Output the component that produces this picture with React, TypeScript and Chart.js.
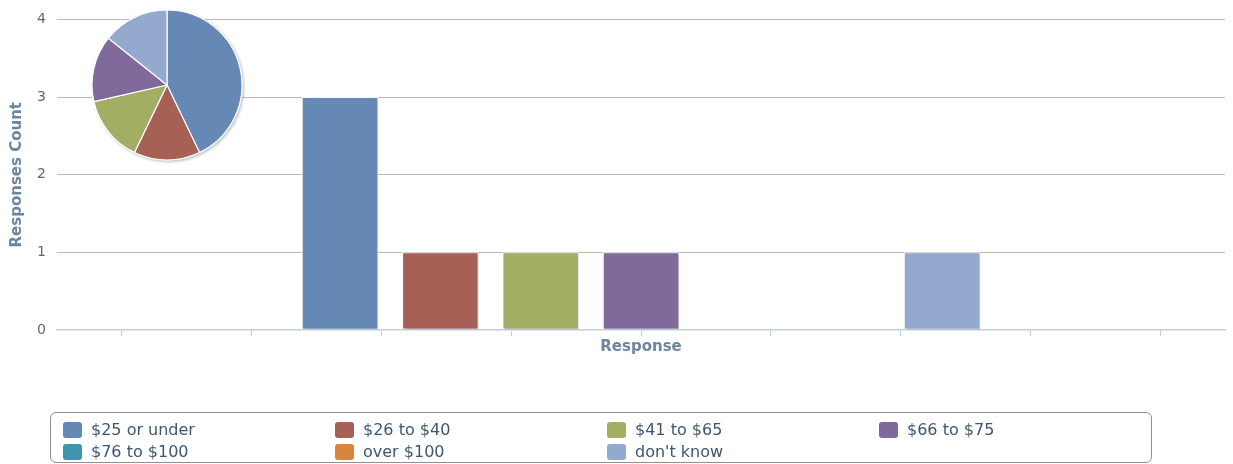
import React, { useEffect, useRef } from 'react';
import { Chart, registerables } from 'chart.js';

Chart.register(...registerables);

// ---- data ----
const categories = [''];
const seriesNames = ['$25 or under', '$26 to $40', '$41 to $65', '$66 to $75', '$76 to $100', 'over $100', "don't know"];
const seriesValues = [3, 1, 1, 1, 0, 0, 1];
const seriesColors = ['#6688B4', '#A66055', '#A3AE64', '#80699B', '#3D96AE', '#DB843D', '#93A9CE'];
const yTickValues = [0, 1, 2, 3, 4];
const xTickValues = [0, 1, 2, 3, 4, 5, 6, 7, 8];
const yTitle = 'Responses Count';
const xTitle = 'Response';

const FONT = 'DejaVu Sans';

const barShadow = {
  id: 'barShadow',
  beforeDatasetsDraw(chart: any) {
    const c = chart.ctx;
    c.save();
    c.shadowColor = 'rgba(0,0,0,0.25)';
    c.shadowBlur = 3;
    c.shadowOffsetX = 1.5;
    c.shadowOffsetY = 1;
  },
  afterDatasetsDraw(chart: any) {
    chart.ctx.restore();
  },
};

const pieShadow = {
  id: 'pieShadow',
  beforeDatasetsDraw(chart: any) {
    const meta = chart.getDatasetMeta(0);
    const arc = meta.data[0];
    if (!arc) return;
    const { x, y, outerRadius } = arc.getProps(['x', 'y', 'outerRadius'], true);
    const c = chart.ctx;
    c.save();
    c.shadowColor = 'rgba(0,0,0,0.25)';
    c.shadowBlur = 3;
    c.shadowOffsetX = 1.5;
    c.shadowOffsetY = 1.5;
    c.beginPath();
    c.arc(x, y, outerRadius + 0.5, 0, Math.PI * 2);
    c.fillStyle = '#ffffff';
    c.fill();
    c.restore();
  },
};

export default function App() {
  const mainRef = useRef<HTMLCanvasElement>(null);
  const pieRef = useRef<HTMLCanvasElement>(null);

  useEffect(() => {
    Chart.defaults.font.family = FONT;
    const main = new Chart(mainRef.current as HTMLCanvasElement, {
      type: 'bar',
      data: {
        labels: categories,
        datasets: seriesNames.map((name, i) => ({
          label: name,
          data: [seriesValues[i]],
          backgroundColor: seriesColors[i],
          borderColor: '#ffffff',
          borderWidth: 1,
          borderSkipped: false,
          categoryPercentage: 0.6014,
          barPercentage: 0.761,
          xAxisID: 'x',
          yAxisID: 'y',
        })),
      },
      options: {
        responsive: true,
        maintainAspectRatio: false,
        animation: false,
        layout: { padding: { top: 17, right: 8, bottom: 104, left: 0 } },
        plugins: { legend: { display: false }, tooltip: { enabled: false } },
        scales: {
          x: { type: 'category', display: false },
          xt: {
            type: 'linear',
            position: 'bottom',
            offset: false,
            min: -0.5,
            max: 8.5,
            afterBuildTicks: (s: any) => {
              s.ticks = xTickValues.map((v) => ({ value: v }));
            },
            ticks: { display: false },
            grid: {
              offset: false,
              drawOnChartArea: false,
              drawTicks: true,
              tickLength: 6,
              color: '#C0D0E0',
              lineWidth: 1,
            },
            border: { display: true, color: '#C0D0E0', width: 1.5 },
            title: {
              display: true,
              text: xTitle,
              color: '#6D869F',
              font: { family: FONT, size: 15, weight: 'bold' },
              padding: { top: 4, bottom: 4 },
            },
            afterFit: (s: any) => {
              s.height = 30;
            },
          },
          y: {
            min: 0,
            max: 4,
            afterBuildTicks: (s: any) => {
              s.ticks = yTickValues.map((v) => ({ value: v }));
            },
            ticks: { color: '#666666', font: { family: FONT, size: 14 }, padding: 11 },
            grid: {
              color: (ctx: any) => (ctx.tick && ctx.tick.value === 0 ? 'rgba(0,0,0,0)' : '#BBBBBB'),
              drawTicks: false,
            },
            border: { display: false },
            title: {
              display: true,
              text: yTitle,
              color: '#6D869F',
              font: { family: FONT, size: 15, weight: 'bold' },
              padding: { top: 8, bottom: 0 },
            },
            afterFit: (s: any) => {
              s.width = 57;
            },
          },
        },
      } as any,
      plugins: [barShadow],
    });

    const pie = new Chart(pieRef.current as HTMLCanvasElement, {
      type: 'pie',
      data: {
        labels: seriesNames,
        datasets: [
          {
            data: seriesValues,
            backgroundColor: seriesColors,
            borderColor: '#ffffff',
            borderWidth: 1.2,
            radius: 75,
          } as any,
        ],
      },
      options: {
        responsive: true,
        maintainAspectRatio: false,
        animation: false,
        layout: { padding: 0 },
        plugins: { legend: { display: false }, tooltip: { enabled: false } },
      },
      plugins: [pieShadow],
    });

    return () => {
      main.destroy();
      pie.destroy();
    };
  }, []);

  return (
    <div style={{ position: 'fixed', left: 0, top: 0, width: 1233, height: 464, background: '#ffffff', overflow: 'hidden' }}>
      <div style={{ position: 'absolute', left: 0, top: 0, width: 1233, height: 464 }}>
        <canvas ref={mainRef} />
      </div>
      <div style={{ position: 'absolute', left: 82, top: 0, width: 170, height: 170 }}>
        <canvas ref={pieRef} />
      </div>
      <div
        style={{
          position: 'absolute',
          left: 50,
          top: 412,
          width: 1102,
          height: 51,
          border: '1px solid #909090',
          borderRadius: 6,
          boxSizing: 'border-box',
        }}
      />
      {seriesNames.map((name, i) => {
        const col = i % 4;
        const row = Math.floor(i / 4);
        return (
          <div
            key={name}
            style={{
              position: 'absolute',
              left: 63 + 272 * col,
              top: 422 + 21.5 * row,
              height: 16,
              display: 'flex',
              alignItems: 'center',
              whiteSpace: 'nowrap',
            }}
          >
            <span
              style={{
                display: 'inline-block',
                width: 19,
                height: 16,
                borderRadius: 3,
                background: seriesColors[i],
                marginRight: 9,
              }}
            />
            <span style={{ fontFamily: FONT, fontSize: 16, color: '#3E576F', lineHeight: '16px' }}>{name}</span>
          </div>
        );
      })}
    </div>
  );
}
